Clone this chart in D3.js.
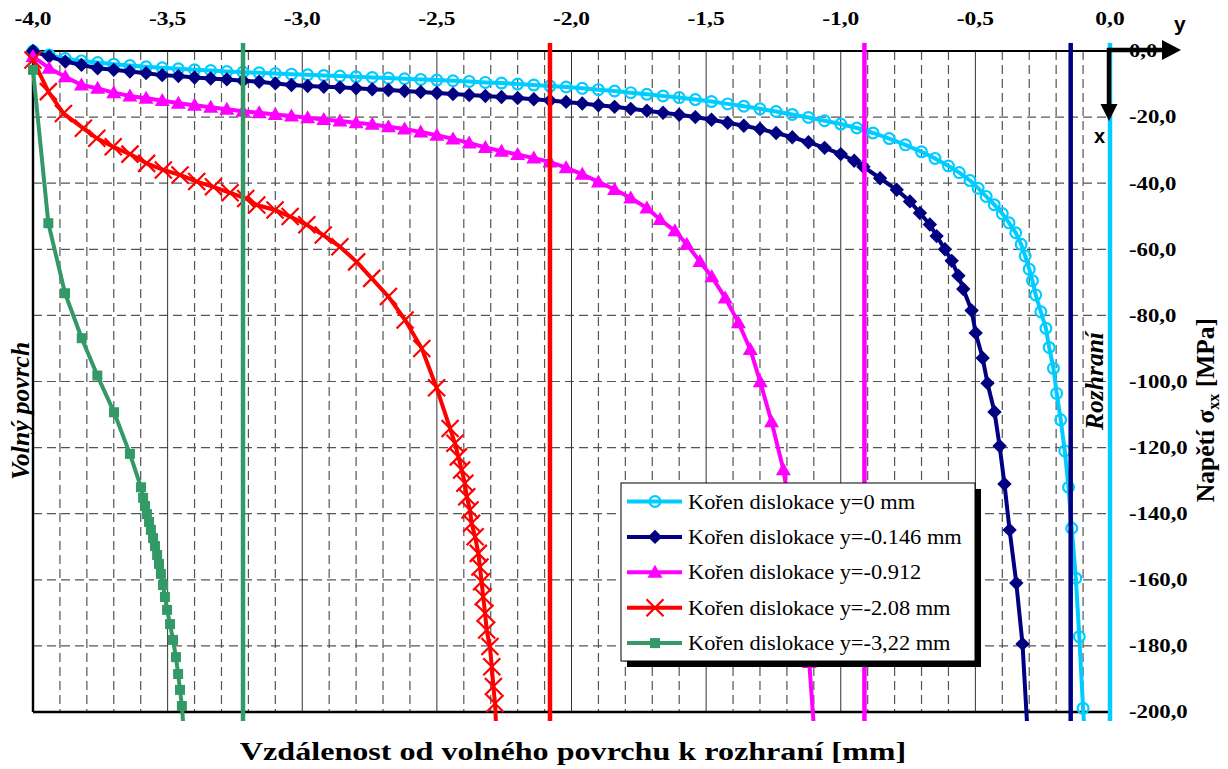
<!DOCTYPE html>
<html lang="cs">
<head>
<meta charset="UTF-8">
<title>Napětí σxx – kořen dislokace</title>
<style>
  html, body { margin: 0; padding: 0; background: #fff; overflow: hidden; }
  svg { display: block; }
</style>
</head>
<body>
<svg id="chart" width="1228" height="769"></svg>
<script src="https://cdn.jsdelivr.net/npm/d3@7/dist/d3.min.js"></script>
<script>
// --- data: [vzdálenost mm, napětí MPa] ---
const xTickValues = [-4.0, -3.5, -3.0, -2.5, -2.0, -1.5, -1.0, -0.5, 0.0];
const yTickValues = [0, -20, -40, -60, -80, -100, -120, -140, -160, -180, -200];

const rootPositions = [0, -0.146, -0.912, -2.08, -3.22];
const seriesNames = [
  "Kořen dislokace y=0 mm",
  "Kořen dislokace y=-0.146 mm",
  "Kořen dislokace y=-0.912",
  "Kořen dislokace y=-2.08 mm",
  "Kořen dislokace y=-3,22 mm"
];

const dataY0 = [[-4.00,0],[-3.94,-1.2],[-3.88,-2.3],[-3.82,-3.0],[-3.76,-3.5],[-3.70,-4.0],[-3.64,-4.4],[-3.58,-4.8],
  [-3.52,-5.1],[-3.46,-5.4],[-3.40,-5.7],[-3.34,-5.9],[-3.28,-6.2],[-3.22,-6.4],[-3.16,-6.6],[-3.10,-6.8],[-3.04,-7.0],
  [-2.98,-7.2],[-2.92,-7.4],[-2.86,-7.6],[-2.80,-7.8],[-2.74,-8.0],[-2.68,-8.2],[-2.62,-8.4],[-2.56,-8.6],[-2.50,-8.8],
  [-2.44,-9.0],[-2.38,-9.2],[-2.32,-9.5],[-2.26,-9.7],[-2.20,-10.0],[-2.14,-10.3],[-2.08,-10.6],[-2.02,-10.9],[-1.96,-11.3],
  [-1.90,-11.7],[-1.84,-12.1],[-1.78,-12.6],[-1.72,-13.1],[-1.66,-13.6],[-1.60,-14.1],[-1.54,-14.7],[-1.48,-15.3],
  [-1.42,-16.0],[-1.36,-16.7],[-1.30,-17.5],[-1.24,-18.3],[-1.18,-19.2],[-1.12,-20.1],[-1.06,-21.1],[-1.00,-22.1],
  [-0.94,-23.3],[-0.88,-24.8],[-0.82,-26.5],[-0.76,-28.4],[-0.70,-30.5],[-0.65,-32.5],[-0.60,-34.8],[-0.56,-36.8],
  [-0.52,-39.2],[-0.49,-41.5],[-0.46,-44.0],[-0.43,-46.5],[-0.40,-49.2],[-0.375,-52.0],[-0.35,-55.0],[-0.33,-58.5],
  [-0.315,-62.0],[-0.30,-66.0],[-0.288,-69.5],[-0.276,-73.8],[-0.257,-78.9],[-0.238,-83.9],[-0.226,-89.7],[-0.210,-96.0],
  [-0.198,-103.6],[-0.183,-111.6],[-0.168,-121.0],[-0.154,-132.0],[-0.142,-144.4],[-0.127,-159.5],[-0.114,-177.2],
  [-0.100,-198.9],[-0.088,-215]];

const dataY0146 = [[-4.00,0],[-3.94,-1.7],[-3.88,-3.2],[-3.82,-4.2],[-3.76,-5.2],[-3.70,-5.7],[-3.64,-6.2],[-3.58,-6.7],
  [-3.52,-7.3],[-3.46,-7.6],[-3.40,-8.0],[-3.34,-8.3],[-3.28,-8.6],[-3.22,-9.0],[-3.16,-9.3],[-3.10,-9.8],[-3.04,-10.3],
  [-2.98,-10.6],[-2.92,-10.8],[-2.86,-11.0],[-2.80,-11.3],[-2.74,-11.6],[-2.68,-11.8],[-2.62,-12.1],[-2.56,-12.4],
  [-2.50,-12.7],[-2.44,-13.0],[-2.38,-13.3],[-2.32,-13.6],[-2.26,-13.9],[-2.20,-14.2],[-2.14,-14.6],[-2.08,-15.0],
  [-2.02,-15.4],[-1.96,-15.9],[-1.90,-16.4],[-1.84,-16.9],[-1.78,-17.5],[-1.72,-18.1],[-1.66,-18.7],[-1.60,-19.3],
  [-1.54,-20.0],[-1.48,-20.8],[-1.42,-21.7],[-1.36,-22.6],[-1.30,-23.6],[-1.24,-24.8],[-1.18,-26.1],[-1.12,-27.6],
  [-1.06,-29.3],[-1.00,-31.2],[-0.95,-33.2],[-0.916,-35.0],[-0.854,-38.5],[-0.792,-42.0],[-0.743,-45.5],[-0.706,-49.0],
  [-0.669,-52.5],[-0.644,-56.0],[-0.613,-60.0],[-0.588,-63.5],[-0.563,-68.0],[-0.545,-72.0],[-0.514,-78.5],
  [-0.499,-85.3],[-0.473,-92.9],[-0.455,-100.5],[-0.429,-109.2],[-0.410,-119.5],[-0.392,-131.0],[-0.373,-144.9],
  [-0.348,-161.0],[-0.325,-179.4],[-0.302,-212]];

const dataY0912 = [[-4.00,-1.7],[-3.94,-5.2],[-3.88,-7.8],[-3.82,-10.3],[-3.76,-11.3],[-3.70,-12.6],[-3.64,-13.6],
  [-3.58,-14.3],[-3.52,-15.0],[-3.46,-15.8],[-3.40,-16.4],[-3.34,-17.0],[-3.28,-17.6],[-3.22,-18.2],[-3.16,-18.7],
  [-3.10,-19.2],[-3.04,-19.7],[-2.98,-20.2],[-2.92,-20.7],[-2.86,-21.2],[-2.80,-21.7],[-2.74,-22.2],[-2.68,-22.9],
  [-2.62,-23.6],[-2.56,-24.5],[-2.50,-25.5],[-2.44,-26.6],[-2.38,-27.8],[-2.32,-29.2],[-2.26,-30.3],[-2.20,-31.3],
  [-2.14,-32.4],[-2.08,-33.6],[-2.02,-35.3],[-1.96,-37.3],[-1.90,-39.6],[-1.84,-41.9],[-1.78,-44.5],[-1.72,-47.5],
  [-1.671,-51.0],[-1.616,-54.4],[-1.572,-58.5],[-1.523,-63.7],[-1.479,-68.3],[-1.429,-74.7],[-1.380,-82.2],
  [-1.336,-90.3],[-1.299,-100.1],[-1.257,-112.2],[-1.213,-126.7],[-1.176,-145],[-1.143,-165],[-1.117,-185],[-1.095,-210]];

const dataY208 = [[-4.00,-2.7],[-3.943,-12.3],[-3.887,-18.9],[-3.813,-23.4],[-3.763,-26.4],[-3.702,-29.0],[-3.640,-31.2],
  [-3.578,-34.0],[-3.516,-36.0],[-3.454,-37.5],[-3.392,-39.5],[-3.330,-41.1],[-3.268,-42.9],[-3.21,-44.6],[-3.169,-46.6],
  [-3.101,-48.1],[-3.045,-50.1],[-2.983,-52.6],[-2.922,-55.7],[-2.860,-59.2],[-2.798,-63.8],[-2.742,-68.8],[-2.680,-74.3],
  [-2.618,-81.4],[-2.556,-90.0],[-2.501,-101.9],[-2.451,-114.2],[-2.433,-118.7],[-2.420,-122.8],[-2.408,-126.8],
  [-2.396,-130.8],[-2.389,-134.9],[-2.377,-138.9],[-2.371,-142.9],[-2.358,-147.0],[-2.346,-152.0],[-2.340,-156.1],
  [-2.334,-160.6],[-2.328,-165.1],[-2.321,-170.1],[-2.315,-175.2],[-2.303,-180.2],[-2.296,-186.3],[-2.290,-192.3],
  [-2.284,-197.4],[-2.279,-206]];

const dataY322 = [[-4.00,-5.7],[-3.943,-52.1],[-3.881,-73.3],[-3.819,-86.9],[-3.761,-98.2],[-3.699,-109.3],[-3.640,-121.9],
  [-3.599,-132.0],[-3.591,-135.2],[-3.584,-137.7],[-3.577,-140.1],[-3.569,-142.5],[-3.562,-144.9],[-3.554,-147.4],
  [-3.547,-149.8],[-3.539,-152.5],[-3.532,-155.2],[-3.525,-158.2],[-3.517,-161.6],[-3.510,-165.2],[-3.502,-169.1],
  [-3.491,-173.4],[-3.480,-178.2],[-3.469,-183.4],[-3.461,-188.5],[-3.454,-193.3],[-3.447,-198.2],[-3.440,-206]];

const seriesData = [dataY0, dataY0146, dataY0912, dataY208, dataY322];
const seriesColors = ["#00CCFF", "#000080", "#FF00FF", "#FF0000", "#339966"];
const seriesMarkers = ["circle", "diamond", "triangle", "cross", "square"];

// --- layout ---
const svg = d3.select("#chart");
const serif = "'Liberation Serif', 'Times New Roman', serif";
const sans = "'Liberation Sans', Arial, sans-serif";

const x = d3.scaleLinear().domain([-4, 0]).range([33, 1110]);
const y = d3.scaleLinear().domain([0, -200]).range([51, 712]);

const fmt = d3.formatLocale({ decimal: ",", thousands: " ", grouping: [3], currency: ["", ""], minus: "-" }).format(".1f");

svg.append("rect").attr("width", 1228).attr("height", 769).attr("fill", "#fff");

// text squeezed like in the original picture (wider than tall)
function wideText(parent, px, py, txt, size, sx, anchor, weight) {
  return parent.append("text")
    .attr("transform", `translate(${px},${py}) scale(${sx},1)`)
    .attr("text-anchor", anchor)
    .attr("font-family", serif)
    .attr("font-weight", weight)
    .attr("font-size", size)
    .attr("fill", "#000")
    .text(txt);
}

// grid
const grid = svg.append("g");
const minorX = d3.range(-39, 0).map(i => i / 10).filter(v => Math.round(v * 10) % 5 !== 0);
grid.selectAll(".vminor").data(minorX).join("line")
  .attr("x1", d => x(d)).attr("x2", d => x(d))
  .attr("y1", y(0)).attr("y2", y(-200))
  .attr("stroke", "#555").attr("stroke-width", 1.2).attr("stroke-dasharray", "9,5");

grid.selectAll(".hgrid").data(yTickValues.filter(v => v !== 0 && v !== -200)).join("line")
  .attr("x1", x(-4)).attr("x2", x(0))
  .attr("y1", d => y(d)).attr("y2", d => y(d))
  .attr("stroke", "#555").attr("stroke-width", 1.2).attr("stroke-dasharray", "9,5");

grid.selectAll(".vmajor").data(xTickValues.filter(v => v > -4)).join("line")
  .attr("x1", d => x(d)).attr("x2", d => x(d))
  .attr("y1", y(0)).attr("y2", y(-200))
  .attr("stroke", "#333").attr("stroke-width", 1);

// plot borders
svg.append("line").attr("x1", x(-4)).attr("x2", x(0)).attr("y1", y(0)).attr("y2", y(0))
  .attr("stroke", "#000").attr("stroke-width", 2);
svg.append("line").attr("x1", x(-4)).attr("x2", x(0)).attr("y1", y(-200)).attr("y2", y(-200))
  .attr("stroke", "#000").attr("stroke-width", 2.6);
svg.append("line").attr("x1", x(-4)).attr("x2", x(-4)).attr("y1", y(0)).attr("y2", y(-200))
  .attr("stroke", "#000").attr("stroke-width", 2.4);

// clipping like the original plot area
svg.append("clipPath").attr("id", "plotClip")
  .append("rect").attr("x", 0).attr("y", y(2.5)).attr("width", 1125).attr("height", y(-202.7) - y(2.5));

const plot = svg.append("g").attr("clip-path", "url(#plotClip)");

const line = d3.line().x(d => x(d[0])).y(d => y(d[1]));

function drawMarker(g, kind, color, cx, cy) {
  if (kind === "circle") {
    g.append("circle").attr("cx", cx).attr("cy", cy).attr("r", 5.4)
      .attr("fill", "none").attr("stroke", color).attr("stroke-width", 2.2);
  } else if (kind === "diamond") {
    g.append("path").attr("d", `M${cx},${cy - 7.2}L${cx + 7.2},${cy}L${cx},${cy + 7.2}L${cx - 7.2},${cy}Z`)
      .attr("fill", color);
  } else if (kind === "triangle") {
    g.append("path").attr("d", `M${cx},${cy - 7.5}L${cx + 7.5},${cy + 5.5}L${cx - 7.5},${cy + 5.5}Z`)
      .attr("fill", color);
  } else if (kind === "cross") {
    g.append("path").attr("d", `M${cx - 8.5},${cy - 8.5}L${cx + 8.5},${cy + 8.5}M${cx + 8.5},${cy - 8.5}L${cx - 8.5},${cy + 8.5}`)
      .attr("stroke", color).attr("stroke-width", 2.2).attr("fill", "none");
  } else {
    g.append("rect").attr("x", cx - 5).attr("y", cy - 5).attr("width", 10).attr("height", 10)
      .attr("fill", color);
  }
}

seriesData.forEach((data, i) => {
  const g = plot.append("g");
  g.append("path").datum(data).attr("d", line)
    .attr("fill", "none").attr("stroke", seriesColors[i]).attr("stroke-width", 4)
    .attr("stroke-linejoin", "round");
  data.forEach(d => drawMarker(g, seriesMarkers[i], seriesColors[i], x(d[0]), y(d[1])));
});

// dislocation roots as vertical lines
plot.selectAll(".root").data(rootPositions).join("line")
  .attr("x1", d => x(d)).attr("x2", d => x(d))
  .attr("y1", y(2.5)).attr("y2", y(-202.7))
  .attr("stroke", (d, i) => seriesColors[i]).attr("stroke-width", 4.5);

// legend
const lg = svg.append("g");
const lgX = 621, lgY = 483, lgW = 354, lgH = 178;
lg.append("rect").attr("x", lgX + 6).attr("y", lgY + 6).attr("width", lgW).attr("height", lgH).attr("fill", "#000");
lg.append("rect").attr("x", lgX).attr("y", lgY).attr("width", lgW).attr("height", lgH)
  .attr("fill", "#fff").attr("stroke", "#000").attr("stroke-width", 1);
seriesNames.forEach((name, i) => {
  const cy = lgY + 18.5 + i * 35.4;
  lg.append("line").attr("x1", lgX + 6).attr("x2", lgX + 61).attr("y1", cy).attr("y2", cy)
    .attr("stroke", seriesColors[i]).attr("stroke-width", 4);
  drawMarker(lg, seriesMarkers[i], seriesColors[i], lgX + 34, cy);
  wideText(lg, lgX + 67, cy + 7, name, 20, 1.12, "start", "normal");
});

// top tick labels
xTickValues.forEach(v => wideText(svg, x(v), 25, fmt(v), 18.5, 1.27, "middle", "bold"));

// right tick labels
yTickValues.forEach(v => wideText(svg, 1129, y(v) + 6.3, fmt(v), 18.5, 1.23, "start", "bold"));

// axis titles
wideText(svg, 573, 760, "Vzdálenost od volného povrchu k rozhraní [mm]", 25.5, 1.26, "middle", "bold");

const yTitle = svg.append("text")
  .attr("transform", "translate(1214,410) rotate(-90)")
  .attr("text-anchor", "middle").attr("font-family", serif).attr("font-weight", "bold").attr("font-size", 25.5);
yTitle.append("tspan").text("Napětí σ");
yTitle.append("tspan").attr("font-size", 16).attr("dy", 5).text("xx");
yTitle.append("tspan").attr("dy", -5).text(" [MPa]");

svg.append("text").attr("transform", "translate(28.5,411) rotate(-90)")
  .attr("text-anchor", "middle").attr("font-family", serif).attr("font-weight", "bold")
  .attr("font-style", "italic").attr("font-size", 25.5).text("Volný povrch");

svg.append("text").attr("transform", "translate(1103,381) rotate(-90)")
  .attr("text-anchor", "middle").attr("font-family", serif).attr("font-weight", "bold")
  .attr("font-style", "italic").attr("font-size", 25.5).text("Rozhraní");

// coordinate arrows
const ax = 1109, ay = 50;
svg.append("line").attr("x1", ax - 2).attr("x2", 1164).attr("y1", ay).attr("y2", ay)
  .attr("stroke", "#000").attr("stroke-width", 4.5);
svg.append("path").attr("d", `M1162,${ay - 10}L1181,${ay}L1162,${ay + 10}Z`).attr("fill", "#000");
svg.append("line").attr("x1", ax).attr("x2", ax).attr("y1", ay - 2).attr("y2", 106)
  .attr("stroke", "#000").attr("stroke-width", 4.5);
svg.append("path").attr("d", `M${ax - 8.5},104L${ax + 8.5},104L${ax},121Z`).attr("fill", "#000");

svg.append("text").attr("x", 1174).attr("y", 31).attr("font-family", sans).attr("font-weight", "bold")
  .attr("font-size", 21).text("y");
svg.append("text").attr("x", 1094).attr("y", 143).attr("font-family", sans).attr("font-weight", "bold")
  .attr("font-size", 20).text("x");
</script>
</body>
</html>
